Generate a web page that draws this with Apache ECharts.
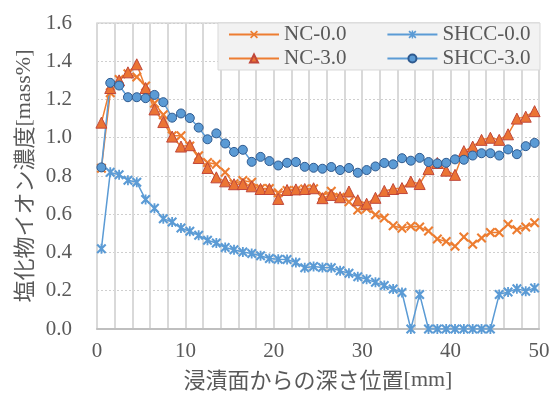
<!DOCTYPE html>
<html>
<head>
<meta charset="utf-8">
<script src="https://cdn.jsdelivr.net/npm/echarts@6/dist/echarts.min.js"></script>
<style>
  html, body { margin: 0; padding: 0; background: #fff; }
  #chart { width: 553px; height: 396px; }
</style>
</head>
<body>
<div id="chart"></div>
<script>
// 浸漬面からの深さ [mm]
const depth = [0.5, 1.5, 2.5, 3.5, 4.5, 5.5, 6.5, 7.5, 8.5, 9.5,
  10.5, 11.5, 12.5, 13.5, 14.5, 15.5, 16.5, 17.5, 18.5, 19.5,
  20.5, 21.5, 22.5, 23.5, 24.5, 25.5, 26.5, 27.5, 28.5, 29.5,
  30.5, 31.5, 32.5, 33.5, 34.5, 35.5, 36.5, 37.5, 38.5, 39.5,
  40.5, 41.5, 42.5, 43.5, 44.5, 45.5, 46.5, 47.5, 48.5, 49.5];

const nc00 = [0.84, 1.235, 1.305, 1.335, 1.318, 1.27, 1.18, 1.12, 1.01, 1.01,
  0.957, 0.906, 0.87, 0.862, 0.819, 0.76, 0.776, 0.767, 0.735, 0.735,
  0.712, 0.724, 0.724, 0.732, 0.733, 0.698, 0.72, 0.689, 0.665, 0.622,
  0.63, 0.597, 0.58, 0.54, 0.527, 0.537, 0.533, 0.512, 0.471, 0.457,
  0.433, 0.481, 0.443, 0.476, 0.505, 0.505, 0.548, 0.519, 0.533, 0.556];

const nc30 = [1.079, 1.26, 1.30, 1.342, 1.384, 1.26, 1.148, 1.082, 1.006, 0.954,
  0.961, 0.894, 0.842, 0.793, 0.772, 0.757, 0.758, 0.746, 0.732, 0.732,
  0.68, 0.727, 0.73, 0.732, 0.736, 0.684, 0.701, 0.689, 0.719, 0.673,
  0.655, 0.686, 0.722, 0.732, 0.737, 0.771, 0.758, 0.836, 0.868, 0.828,
  0.806, 0.93, 0.954, 0.989, 1.0, 0.989, 1.018, 1.10, 1.11, 1.139];

const shcc00 = [0.42, 0.819, 0.807, 0.778, 0.767, 0.677, 0.632, 0.577, 0.559, 0.528,
  0.511, 0.49, 0.464, 0.45, 0.426, 0.414, 0.403, 0.395, 0.383, 0.369,
  0.365, 0.364, 0.348, 0.32, 0.327, 0.321, 0.32, 0.304, 0.291, 0.273,
  0.26, 0.244, 0.227, 0.209, 0.191, 0, 0.181, 0, 0, 0,
  0, 0, 0, 0, 0, 0.181, 0.193, 0.211, 0.198, 0.215];

const shcc30 = [0.845, 1.287, 1.273, 1.212, 1.212, 1.207, 1.224, 1.186, 1.105, 1.127,
  1.103, 1.053, 0.992, 1.023, 0.97, 0.926, 0.937, 0.874, 0.90, 0.878,
  0.855, 0.869, 0.873, 0.848, 0.843, 0.838, 0.847, 0.831, 0.842, 0.817,
  0.831, 0.85, 0.868, 0.861, 0.893, 0.88, 0.895, 0.873, 0.866, 0.869,
  0.887, 0.885, 0.907, 0.919, 0.919, 0.907, 0.939, 0.914, 0.956, 0.973];

const ORANGE = '#ED7D31';
const BLUE = '#5B9BD5';
const TEXT = '#595959';
const SERIF = '"Liberation Serif", "Times New Roman", serif';
const GOTHIC = '"Noto Sans CJK JP", sans-serif';

// マーカー形状
const crossPath = 'path://M0,1.5 L1.5,0 L5,3.5 L8.5,0 L10,1.5 L6.5,5 L10,8.5 L8.5,10 L5,6.5 L1.5,10 L0,8.5 L3.5,5 Z';
const starPath = 'path://M0,1.5 L1.5,0 L5,3.5 L8.5,0 L10,1.5 L6.5,5 L10,8.5 L8.5,10 L5,6.5 L1.5,10 L0,8.5 L3.5,5 Z M4.1,0 L5.9,0 L5.9,10 L4.1,10 Z';

function pairs(ys) {
  return depth.map((x, i) => [x, ys[i]]);
}

const nameRich = {
  a: { fontFamily: GOTHIC, fontSize: 22, color: TEXT },
  b: { fontFamily: SERIF, fontSize: 22, color: TEXT }
};

const chart = echarts.init(document.getElementById('chart'));

const legendBase = {
  left: 218,
  orient: 'horizontal',
  itemWidth: 50,
  itemHeight: 10,
  itemGap: 40,
  padding: [1, 5, 0, 10],
  textStyle: { fontFamily: SERIF, fontSize: 21, color: TEXT },
  z: 5
};

chart.setOption({
  animation: false,
  backgroundColor: '#fff',
  grid: {
    left: 97, right: 14, top: 23, bottom: 65,
    show: true, borderColor: '#d9d9d9', borderWidth: 1.5
  },
  graphic: [{
    type: 'rect',
    z: 3,
    shape: { x: 218, y: 23, width: 322, height: 47 },
    style: { fill: '#f2f2f2', stroke: '#d9d9d9', lineWidth: 1 }
  }],
  legend: [
    Object.assign({}, legendBase, { top: 23, data: ['NC-0.0', 'SHCC-0.0'] }),
    Object.assign({}, legendBase, { top: 47, data: ['NC-3.0', 'SHCC-3.0'] })
  ],
  xAxis: {
    type: 'value',
    min: 0, max: 50, interval: 2,
    name: '{a|浸漬面からの深さ位置}{b|[mm]}',
    nameLocation: 'middle',
    nameGap: 40,
    nameTextStyle: { rich: nameRich },
    axisLine: { show: true, lineStyle: { color: '#bfbfbf', width: 2 } },
    axisTick: { show: false },
    axisLabel: {
      margin: 12,
      fontFamily: SERIF, fontSize: 21, color: TEXT,
      formatter: v => (v % 10 === 0 ? String(v) : '')
    },
    splitLine: { show: true, lineStyle: { color: '#d9d9d9', width: 2 } }
  },
  yAxis: {
    type: 'value',
    min: 0, max: 1.6, interval: 0.2,
    name: '{a|塩化物イオン濃度}{b|[mass%]}',
    nameLocation: 'middle',
    nameRotate: 90,
    nameGap: 62,
    nameTextStyle: { rich: nameRich },
    axisLine: { show: false },
    axisTick: { show: false },
    axisLabel: {
      margin: 25,
      fontFamily: SERIF, fontSize: 21, color: TEXT,
      formatter: v => v.toFixed(1)
    },
    splitLine: { show: true, lineStyle: { color: '#cfcfcf', width: 1, type: [2, 2] } }
  },
  series: [
    {
      name: 'NC-0.0', type: 'line', data: pairs(nc00),
      symbol: crossPath, symbolSize: 10,
      lineStyle: { color: ORANGE, width: 1.5 },
      itemStyle: { color: ORANGE }
    },
    {
      name: 'NC-3.0', type: 'line', data: pairs(nc30),
      symbol: 'triangle', symbolSize: 11,
      lineStyle: { color: ORANGE, width: 1.5 },
      itemStyle: { color: '#EB7434', borderColor: '#C0473A', borderWidth: 1 }
    },
    {
      name: 'SHCC-0.0', type: 'line', data: pairs(shcc00),
      symbol: starPath, symbolSize: 10,
      lineStyle: { color: BLUE, width: 1.5 },
      itemStyle: { color: BLUE }
    },
    {
      name: 'SHCC-3.0', type: 'line', data: pairs(shcc30),
      symbol: 'circle', symbolSize: 9,
      lineStyle: { color: BLUE, width: 1.5 },
      itemStyle: { color: BLUE, borderColor: '#2F5A8F', borderWidth: 1 }
    }
  ]
});
</script>
</body>
</html>
